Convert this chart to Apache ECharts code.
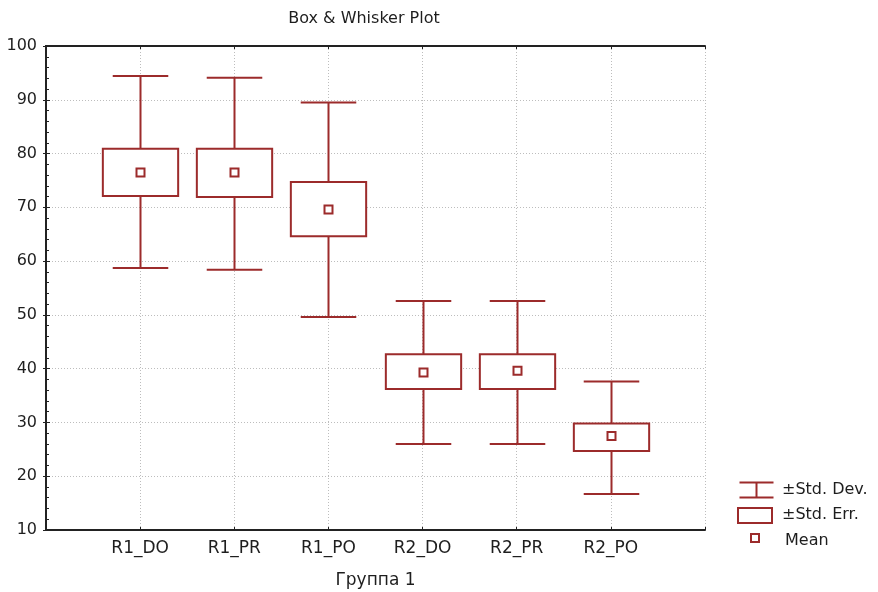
<!DOCTYPE html>
<html>
<head>
<meta charset="utf-8">
<script src="https://cdn.jsdelivr.net/npm/echarts@6/dist/echarts.min.js"></script>
<style>
html,body{margin:0;padding:0;background:#fff;}
#chart{width:878px;height:592px;}
</style>
</head>
<body>
<div id="chart"></div>
<script>
const categories = ['R1_DO', 'R1_PR', 'R1_PO', 'R2_DO', 'R2_PR', 'R2_PO'];
const means  = [76.5, 76.5, 69.6, 39.3, 39.6, 27.5];
const sdLow  = [58.7, 58.4, 49.6, 26.0, 26.0, 16.7];
const sdHigh = [94.4, 94.1, 89.5, 52.6, 52.6, 37.6];
const seLow  = [72.1, 71.9, 64.6, 36.2, 36.2, 24.7];
const seHigh = [80.9, 80.9, 74.7, 42.7, 42.7, 29.8];
const yTicks = [10, 20, 30, 40, 50, 60, 70, 80, 90, 100];

const RED = '#9c2b2b';
const TXT = '#1e1e1e';
const FONT = '"DejaVu Sans", sans-serif';

const data = categories.map((c, i) => [i + 1, sdLow[i], seLow[i], means[i], seHigh[i], sdHigh[i]]);

function renderItem(params, api) {
  const x = api.value(0);
  const pLo = api.coord([x, api.value(1)]);
  const pSeLo = api.coord([x, api.value(2)]);
  const pMean = api.coord([x, api.value(3)]);
  const pSeHi = api.coord([x, api.value(4)]);
  const pHi = api.coord([x, api.value(5)]);
  const boxW = api.size([0.8, 0])[0];
  const capW = api.size([0.59, 0])[0];
  const cx = Math.round(pMean[0]) + 0.5;
  const st = { stroke: RED, lineWidth: 2, fill: null };
  return {
    type: 'group',
    children: [
      { type: 'line', shape: { x1: cx, y1: pHi[1], x2: cx, y2: pSeHi[1] }, style: st },
      { type: 'line', shape: { x1: cx, y1: pSeLo[1], x2: cx, y2: pLo[1] }, style: st },
      { type: 'line', shape: { x1: cx - capW / 2, y1: pHi[1], x2: cx + capW / 2, y2: pHi[1] }, style: st },
      { type: 'line', shape: { x1: cx - capW / 2, y1: pLo[1], x2: cx + capW / 2, y2: pLo[1] }, style: st },
      { type: 'rect', shape: { x: cx - boxW / 2, y: pSeHi[1], width: boxW, height: pSeLo[1] - pSeHi[1] }, style: { stroke: RED, lineWidth: 2, fill: '#fff' } },
      { type: 'rect', shape: { x: cx - 4, y: pMean[1] - 4, width: 8, height: 8 }, style: { stroke: RED, lineWidth: 2, fill: '#fff' } }
    ]
  };
}

const chart = echarts.init(document.getElementById('chart'), null, { renderer: 'canvas' });
const gridLine = { show: true, lineStyle: { color: '#bdbdbd', type: [1, 2], width: 1 } };
chart.setOption({
  animation: false,
  backgroundColor: '#fff',
  title: {
    text: 'Box & Whisker Plot',
    left: 359, top: 6, textAlign: 'center',
    textStyle: { fontFamily: FONT, fontSize: 16, fontWeight: 'normal', color: TXT }
  },
  grid: { left: 46, top: 46, right: 173, bottom: 62, containLabel: false, outerBoundsMode: 'none' },
  xAxis: [{
    type: 'value', min: 0, max: 7, interval: 1,
    name: 'Группа 1', nameLocation: 'middle', nameGap: 42,
    nameTextStyle: { fontFamily: FONT, fontSize: 17, color: TXT },
    axisLine: { show: true, lineStyle: { color: '#222', width: 2 } },
    axisTick: { show: true, inside: true, length: 3, lineStyle: { color: '#222' } },
    axisLabel: {
      fontFamily: FONT, fontSize: 17, color: TXT, margin: 10,
      formatter: v => categories[v - 1] || ''
    },
    splitLine: gridLine
  }, {
    type: 'value', min: 0, max: 7, interval: 1, position: 'top',
    axisLine: { show: true, lineStyle: { color: '#222', width: 2 } },
    axisTick: { show: true, inside: true, length: 3, lineStyle: { color: '#222' } },
    axisLabel: { show: false }, splitLine: { show: false }
  }],
  yAxis: [{
    type: 'value', min: yTicks[0], max: yTicks[yTicks.length - 1], interval: 10,
    axisLine: { show: true, lineStyle: { color: '#222', width: 2 } },
    axisTick: { show: true, inside: true, length: 4, lineStyle: { color: '#222' } },
    minorTick: { show: true, splitNumber: 5, length: 3, lineStyle: { color: '#222' } },
    axisLabel: { fontFamily: FONT, fontSize: 16, color: TXT, margin: 9 },
    splitLine: gridLine
  }, {
    type: 'value', min: yTicks[0], max: yTicks[yTicks.length - 1], interval: 10, position: 'right',
    axisLine: { show: true, lineStyle: { color: '#222', width: 2 } },
    axisTick: { show: true, inside: true, length: 3, lineStyle: { color: '#222' } },
    axisLabel: { show: false }, splitLine: { show: false }
  }],
  series: [{
    type: 'custom',
    xAxisIndex: 0, yAxisIndex: 0,
    renderItem: renderItem,
    encode: { x: 0, y: [1, 2, 3, 4, 5] },
    data: data,
    z: 5
  }],
  graphic: [
    { type: 'group', left: 737, top: 480, children: [
      { type: 'line', shape: { x1: 0, y1: 1, x2: 34, y2: 1 }, style: { stroke: RED, lineWidth: 2 } },
      { type: 'line', shape: { x1: 0, y1: 16, x2: 34, y2: 16 }, style: { stroke: RED, lineWidth: 2 } },
      { type: 'line', shape: { x1: 17, y1: 1, x2: 17, y2: 16 }, style: { stroke: RED, lineWidth: 2 } }
    ]},
    { type: 'rect', left: 737, top: 507, shape: { x: 0, y: 0, width: 34, height: 15 }, style: { stroke: RED, lineWidth: 2, fill: '#fff' } },
    { type: 'rect', left: 750, top: 533, shape: { x: 0, y: 0, width: 8, height: 8 }, style: { stroke: RED, lineWidth: 2, fill: '#fff' } },
    { type: 'text', left: 782, top: 482, style: { text: '±Std. Dev.', font: '16px ' + FONT, fill: TXT } },
    { type: 'text', left: 782, top: 507, style: { text: '±Std. Err.', font: '16px ' + FONT, fill: TXT } },
    { type: 'text', left: 785, top: 533, style: { text: 'Mean', font: '16px ' + FONT, fill: TXT } }
  ]
});
</script>
</body>
</html>
